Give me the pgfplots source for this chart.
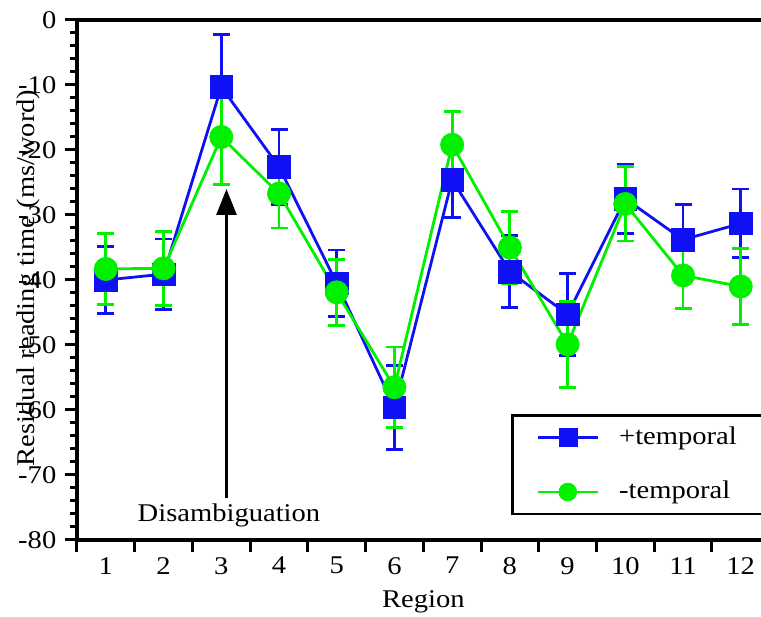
\documentclass[border=0pt]{standalone}
\usepackage{fontspec}
\setmainfont{Liberation Serif}[FakeStretch=1.12]
\usepackage{pgfplots}
\pgfplotsset{compat=1.18}
\usepackage{pgfplotstable}
\usetikzlibrary{arrows.meta}
\definecolor{pblue}{RGB}{16,16,245}
\definecolor{pgreen}{RGB}{0,240,0}
\newcommand\bigf{\fontsize{25.5}{30}\selectfont}

\pgfplotstableread{
x y e
1 -40.0 5.1
2 -39.1 5.4
3 -10.3 8.1
4 -22.6 5.8
5 -40.5 5.1
6 -59.6 6.5
7 -24.6 5.8
8 -38.7 5.5
9 -45.3 6.3
10 -27.5 5.3
11 -33.8 5.4
12 -31.3 5.3
}\plusdata

\pgfplotstableread{
x y e
1 -38.3 5.5
2 -38.2 5.7
3 -18.0 7.3
4 -26.7 5.3
5 -41.9 5.1
6 -56.5 6.2
7 -19.2 5.1
8 -35.0 5.5
9 -49.9 6.6
10 -28.3 5.7
11 -39.3 5.1
12 -41.0 5.8
}\minusdata

\begin{document}
\bigf
\begin{tikzpicture}
\begin{axis}[
  name=ax, at={(0,0)}, anchor=south west,
  scale only axis, width=692.6pt, height=520pt,
  xmin=0.5, xmax=12.5, ymin=-80, ymax=0,
  clip=false,
  axis x line*=bottom, axis y line*=left,
  axis line style={line width=3.4pt, -},
  xtick={0.5,1.5,2.5,3.5,4.5,5.5,6.5,7.5,8.5,9.5,10.5,11.5,12.5},
  xticklabels={1,2,3,4,5,6,7,8,9,10,11,12},
  x tick label as interval,
  ytick={-80,-70,-60,-50,-40,-30,-20,-10,0},
  yticklabels={-80,-70,-60,-50,-40,-30,-20,-10,0},
  minor y tick num=4,
  tick align=outside,
  major tick length=12pt, minor tick length=7pt,
  tick style={line width=3pt, black},
  tick label style={font=\bigf},
  x tick label style={yshift=-3pt, inner sep=2pt},
  xlabel={Region},
  xlabel style={at={(rel axis cs:0.5,0)}, anchor=base, yshift=-68pt, inner sep=1pt, font=\bigf},
  legend style={at={(0.992,0.048)}, anchor=south east, draw=black, line width=2.5pt,
    font=\bigf, inner xsep=24pt, inner ysep=9pt, row sep=29pt, column sep=18pt},
  legend cell align=left,
  legend image code/.code={\draw[mark repeat=2,mark phase=2,mark size=9pt] plot coordinates {(0pt,0pt) (30pt,0pt) (60pt,0pt)};},
]
\addplot[color=pblue, line width=2.8pt, mark=square*, mark size=11.3pt,
  mark options={solid, fill=pblue, line width=0.5pt},
  error bars/.cd, y dir=both, y explicit,
  error bar style={line width=2.8pt, pblue},
  error mark options={line width=2.8pt, mark size=8.5pt, pblue, rotate=90}]
  table[x=x, y=y, y error=e]{\plusdata};
\addlegendentry{+temporal}
\addplot[color=pgreen, line width=2.8pt, mark=*, mark size=11.7pt,
  mark options={solid, fill=pgreen, line width=0.5pt},
  error bars/.cd, y dir=both, y explicit,
  error bar style={line width=2.8pt, pgreen},
  error mark options={line width=2.8pt, mark size=8.5pt, pgreen, rotate=90}]
  table[x=x, y=y, y error=e]{\minusdata};
\addlegendentry{-temporal}
\draw[line width=3.4pt] (rel axis cs:0,1) -- (rel axis cs:1,1);
\draw[line width=2.8pt, -{Triangle[length=26pt,width=20pt]}] (axis cs:3.09,-73.5) -- (axis cs:3.09,-26.0);
\node[anchor=base, font=\bigf] at (axis cs:3.133,-77.2) {Disambiguation};
\node[rotate=90, anchor=base, font=\bigf] at ([xshift=-42pt]rel axis cs:0,0.504) {Residual reading time (ms/word)};
\end{axis}
\pgfresetboundingbox
\path[use as bounding box] ([shift={(-77pt,-77pt)}]ax.south west) rectangle ([shift={(684pt,20pt)}]ax.north west);
\end{tikzpicture}
\end{document}
